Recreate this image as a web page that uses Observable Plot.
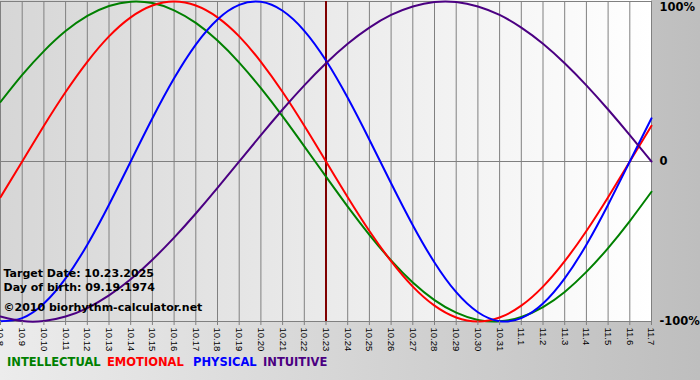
<!DOCTYPE html>
<html><head><meta charset="utf-8">
<script src="https://cdn.jsdelivr.net/npm/d3@7"></script>
<script src="https://cdn.jsdelivr.net/npm/@observablehq/plot@0.6"></script>
<style>
html,body{margin:0;padding:0;background:#fff;}
#wrap{position:relative;width:700px;height:380px;overflow:hidden;background:linear-gradient(to right,#ececec,#bebebe);font-family:"DejaVu Sans",Verdana,sans-serif;}
#plotbg{position:absolute;left:0;top:0;width:651px;height:321px;background:linear-gradient(to right,#d6d6d6,#ffffff);}
#chart{position:absolute;left:0;top:0;}
#legend{position:absolute;top:355px;left:0;width:700px;height:16px;font-weight:bold;font-size:11.5px;}
#legend span{position:absolute;top:0;white-space:nowrap;}
</style></head><body>
<div id="wrap"><div id="plotbg"></div><div id="chart"></div><div id="legend"></div></div>
<script>
const dates = ["10.8","10.9","10.10","10.11","10.12","10.13","10.14","10.15","10.16","10.17","10.18","10.19","10.20","10.21","10.22","10.23","10.24","10.25","10.26","10.27","10.28","10.29","10.30","10.31","11.1","11.2","11.3","11.4","11.5","11.6","11.7"];
const intellectual = [37.2,54.1,69.0,81.5,91.0,97.2,99.9,99.0,94.5,86.6,75.6,61.8,45.8,28.2,9.5,-9.5,-28.2,-45.8,-61.8,-75.6,-86.6,-94.5,-99.0,-99.9,-97.2,-91.0,-81.5,-69.0,-54.1,-37.2,-18.9];
const emotional = [-22.3,0,22.3,43.4,62.3,78.2,90.1,97.5,100,97.5,90.1,78.2,62.3,43.4,22.3,0,-22.3,-43.4,-62.3,-78.2,-90.1,-97.5,-100,-97.5,-90.1,-78.2,-62.3,-43.4,-22.3,0,22.3];
const physical = [-99.8,-97.9,-88.8,-73.1,-52.0,-27.0,0,27.0,52.0,73.1,88.8,97.9,99.8,94.2,81.7,63.1,39.8,13.6,-13.6,-39.8,-63.1,-81.7,-94.2,-99.8,-97.9,-88.8,-73.1,-52.0,-27.0,0,27.0];
const intuitive = [-96.9,-99.7,-99.7,-96.9,-91.6,-83.7,-73.6,-61.4,-47.6,-32.5,-16.5,0,16.5,32.5,47.6,61.4,73.6,83.7,91.6,96.9,99.7,99.7,96.9,91.6,83.7,73.6,61.4,47.6,32.5,16.5,0];
const seriesNames = ["INTELLECTUAL","EMOTIONAL","PHYSICAL","INTUITIVE"];
const seriesColors = ["#008000","#ff0000","#0000ff","#4b0082"];
const targetDate = "10.23";
const infoLines = ["Target Date: 10.23.2025","Day of birth: 09.19.1974","©2010 biorhythm-calculator.net"];
const yTicks = [100, 0, -100];

const seriesValues = [intellectual, emotional, physical, intuitive];
const dayIndex = dates.map((d, i) => i);
const rows = seriesValues.map(vals => dates.map((d, i) => ({day: i, value: vals[i]})));

const infoStyle = {frameAnchor: "bottom-left", textAnchor: "start", lineAnchor: "bottom", dx: 3, fontWeight: "bold", fontSize: 11, fill: "#000"};

const chart = Plot.plot({
  width: 700, height: 362,
  marginLeft: 0, marginRight: 49, marginTop: 1, marginBottom: 41,
  x: {type: "linear", domain: [0, dates.length - 1]},
  y: {domain: [-100, 100]},
  style: {background: "none", fontFamily: "DejaVu Sans, sans-serif", color: "#000", overflow: "hidden"},
  marks: [
    Plot.ruleX(dayIndex, {stroke: "#808080", strokeWidth: 1, strokeOpacity: 1}),
    Plot.ruleY(yTicks, {stroke: "#808080", strokeWidth: 1, strokeOpacity: 1}),
    Plot.ruleX([dates.indexOf(targetDate)], {stroke: "#800000", strokeWidth: 2}),
    ...rows.map((r, k) => Plot.line(r, {x: "day", y: "value", stroke: seriesColors[k], strokeWidth: 2, curve: "natural"})),
    Plot.text([infoLines[0]], {...infoStyle, dy: -45}),
    Plot.text([infoLines[1]], {...infoStyle, dy: -31}),
    Plot.text([infoLines[2]], {...infoStyle, dy: -11}),
    Plot.axisX({ticks: dayIndex, tickFormat: i => dates[i], tickSize: 4, tickRotate: 90, tickPadding: 2, fontSize: 9.5, fontFamily: "Liberation Sans, sans-serif", stroke: "#808080", label: null}),
    Plot.axisY({anchor: "right", ticks: [0, -100], tickSize: 0, tickPadding: 8, tickFormat: d => d === 0 ? "0" : d + "%", fontWeight: "bold", fontSize: 11.5, label: null}),
    Plot.axisY({anchor: "right", ticks: [100], tickSize: 0, tickPadding: 8, dy: 6, tickFormat: d => d + "%", fontWeight: "bold", fontSize: 11.5, label: null})
  ]
});
document.getElementById("chart").appendChild(chart);

const legendLeft = [7, 107, 193, 263];
const legend = document.getElementById("legend");
seriesNames.forEach((n, k) => {
  const s = document.createElement("span");
  s.textContent = n;
  s.style.color = seriesColors[k];
  s.style.left = legendLeft[k] + "px";
  legend.appendChild(s);
});
</script>
</body></html>
